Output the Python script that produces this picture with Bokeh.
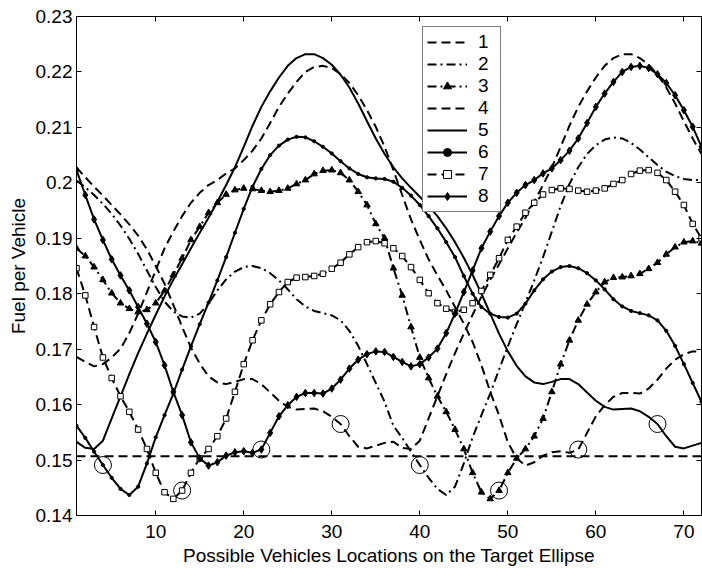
from bokeh.plotting import figure
from bokeh.models import Range1d, FixedTicker, LinearAxis, Legend, LegendItem, Span
from bokeh.embed import file_html
from bokeh.resources import INLINE

# ---------------- data ----------------
locations = list(range(1, 73))

fuel_1 = [0.2028, 0.2010, 0.1993, 0.1977, 0.1960, 0.1943, 0.1925, 0.1905, 0.1880, 0.1850,
          0.1818, 0.1780, 0.1740, 0.1703, 0.1674, 0.1651, 0.1640, 0.1637, 0.1641, 0.1646,
          0.1646, 0.1637, 0.1622, 0.1607, 0.1596, 0.1591, 0.1592, 0.1593, 0.1588, 0.1578,
          0.1565, 0.1543, 0.1524, 0.1521, 0.1526, 0.1531,
          0.1533, 0.1522, 0.1520, 0.1535, 0.1575, 0.1615, 0.1655, 0.1693, 0.1728, 0.1762,
          0.1795, 0.1825, 0.1853, 0.1882, 0.1910, 0.1937, 0.1966, 0.1996, 0.2028, 0.2065,
          0.2103, 0.2137, 0.2165, 0.2190, 0.2211, 0.2225, 0.2232, 0.2232, 0.2225, 0.2213,
          0.2195, 0.2172, 0.2143, 0.2111, 0.2080, 0.2052]

fuel_2 = [0.2004, 0.1992, 0.1978, 0.1962, 0.1944, 0.1923, 0.1899, 0.1872, 0.1842, 0.1812,
          0.1786, 0.1768, 0.1759, 0.1757, 0.1764, 0.1782, 0.1806, 0.1826, 0.1840, 0.1848,
          0.1850, 0.1846, 0.1837, 0.1824, 0.1808, 0.1790, 0.1777, 0.1769, 0.1765, 0.1761,
          0.1752, 0.1733, 0.1706, 0.1673, 0.1639, 0.1605,
          0.1562, 0.1540, 0.1515, 0.1491, 0.1468, 0.1448, 0.1437, 0.1452, 0.1494, 0.1541,
          0.1581, 0.1620, 0.1663, 0.1705, 0.1745, 0.1784, 0.1824, 0.1866, 0.1912, 0.1958,
          0.1998, 0.2028, 0.2052, 0.2068, 0.2078, 0.2082, 0.2080, 0.2072, 0.2060, 0.2046,
          0.2032, 0.2020, 0.2012, 0.2007, 0.2005, 0.2005]

fuel_3 = [0.1882, 0.1868, 0.1848, 0.1825, 0.1801, 0.1783, 0.1773, 0.1767, 0.1771, 0.1783,
          0.1805, 0.1834, 0.1864, 0.1897, 0.1921, 0.1946, 0.1964, 0.1979, 0.1987, 0.1990,
          0.1989, 0.1986, 0.1984, 0.1986, 0.1990, 0.1998, 0.2005, 0.2016, 0.2022, 0.2023,
          0.2018, 0.2005, 0.1984, 0.1960, 0.1926, 0.1900,
          0.1846, 0.1797, 0.1740, 0.1685, 0.1648, 0.1615, 0.1587, 0.1555, 0.1520, 0.1477,
          0.1442, 0.1430, 0.1445, 0.1477, 0.1503, 0.1520, 0.1543, 0.1575, 0.1623, 0.1673,
          0.1716, 0.1752, 0.1781, 0.1803, 0.1821, 0.1829, 0.1830, 0.1832, 0.1836, 0.1845,
          0.1856, 0.1871, 0.1884, 0.1893, 0.1895, 0.1891]

fuel_4 = [0.1686, 0.1677, 0.1669, 0.1673, 0.1685, 0.1701, 0.1729, 0.1764, 0.1803, 0.1842,
          0.1882, 0.1912, 0.1940, 0.1964, 0.1982, 0.1996, 0.2005, 0.2017, 0.2026, 0.2041,
          0.2058, 0.2080, 0.2108, 0.2137, 0.2161, 0.2182, 0.2200, 0.2209, 0.2211, 0.2207,
          0.2196, 0.2180, 0.2158, 0.2131, 0.2101, 0.2065,
          0.2023, 0.1978, 0.1934, 0.1897, 0.1862, 0.1833, 0.1806, 0.1776, 0.1746, 0.1713,
          0.1671, 0.1623, 0.1581, 0.1532, 0.1503, 0.1490, 0.1496, 0.1508, 0.1514, 0.1516,
          0.1513, 0.1519, 0.1549, 0.1579, 0.1599, 0.1614, 0.1621, 0.1621, 0.1620, 0.1629,
          0.1645, 0.1665, 0.1681, 0.1691, 0.1696, 0.1695]

fuel_5 = [0.1533, 0.1522, 0.1520, 0.1535, 0.1575, 0.1615, 0.1655, 0.1693, 0.1728, 0.1762,
          0.1795, 0.1825, 0.1853, 0.1882, 0.1910, 0.1937, 0.1966, 0.1996, 0.2028, 0.2065,
          0.2103, 0.2137, 0.2165, 0.2190, 0.2211, 0.2225, 0.2232, 0.2232, 0.2225, 0.2213,
          0.2195, 0.2172, 0.2143, 0.2111, 0.2080, 0.2052, 0.2028, 0.2008, 0.1991, 0.1975,
          0.1958, 0.1940, 0.1918, 0.1893, 0.1865, 0.1834, 0.1800, 0.1764, 0.1728, 0.1696,
          0.1670, 0.1651, 0.1640, 0.1637, 0.1641, 0.1646, 0.1646, 0.1637, 0.1622, 0.1607,
          0.1596, 0.1591, 0.1592, 0.1593, 0.1588, 0.1578, 0.1565, 0.1543, 0.1524, 0.1521,
          0.1526, 0.1531]

fuel_6 = [0.1562, 0.1540, 0.1515, 0.1491, 0.1468, 0.1448, 0.1437, 0.1452, 0.1494, 0.1541,
          0.1581, 0.1620, 0.1663, 0.1705, 0.1745, 0.1784, 0.1824, 0.1866, 0.1910, 0.1953,
          0.1993, 0.2025, 0.2050, 0.2067, 0.2078, 0.2083, 0.2082, 0.2075, 0.2065, 0.2053,
          0.2039, 0.2026, 0.2016, 0.2010, 0.2008, 0.2007, 0.2002, 0.1991, 0.1977, 0.1960,
          0.1940, 0.1918, 0.1893, 0.1866, 0.1832, 0.1800, 0.1776, 0.1764, 0.1758, 0.1757,
          0.1764, 0.1782, 0.1806, 0.1826, 0.1840, 0.1848, 0.1850, 0.1846, 0.1837, 0.1824,
          0.1808, 0.1790, 0.1777, 0.1769, 0.1765, 0.1761, 0.1752, 0.1733, 0.1706, 0.1673,
          0.1639, 0.1605]

fuel_7 = [0.1846, 0.1797, 0.1740, 0.1685, 0.1648, 0.1615, 0.1587, 0.1555, 0.1520, 0.1477,
          0.1442, 0.1430, 0.1445, 0.1477, 0.1503, 0.1520, 0.1543, 0.1575, 0.1623, 0.1673,
          0.1716, 0.1752, 0.1781, 0.1803, 0.1821, 0.1829, 0.1830, 0.1832, 0.1836, 0.1845,
          0.1856, 0.1871, 0.1884, 0.1893, 0.1895, 0.1891, 0.1882, 0.1868, 0.1848, 0.1825,
          0.1801, 0.1783, 0.1773, 0.1767, 0.1771, 0.1783, 0.1805, 0.1834, 0.1864, 0.1897,
          0.1921, 0.1946, 0.1964, 0.1979, 0.1987, 0.1990, 0.1989, 0.1986, 0.1984, 0.1986,
          0.1990, 0.1998, 0.2005, 0.2016, 0.2022, 0.2023, 0.2018, 0.2005, 0.1984, 0.1960,
          0.1926, 0.1900]

fuel_8 = [0.2023, 0.1978, 0.1934, 0.1897, 0.1862, 0.1833, 0.1806, 0.1776, 0.1746, 0.1713,
          0.1671, 0.1623, 0.1581, 0.1532, 0.1503, 0.1490, 0.1496, 0.1508, 0.1514, 0.1516,
          0.1513, 0.1519, 0.1549, 0.1579, 0.1599, 0.1614, 0.1621, 0.1621, 0.1620, 0.1629,
          0.1645, 0.1665, 0.1681, 0.1691, 0.1696, 0.1695, 0.1686, 0.1677, 0.1669, 0.1673,
          0.1685, 0.1701, 0.1729, 0.1764, 0.1803, 0.1842, 0.1882, 0.1912, 0.1940, 0.1964,
          0.1982, 0.1996, 0.2005, 0.2017, 0.2026, 0.2041, 0.2058, 0.2080, 0.2108, 0.2137,
          0.2161, 0.2182, 0.2200, 0.2209, 0.2211, 0.2207, 0.2196, 0.2180, 0.2158, 0.2131,
          0.2101, 0.2065]

series_names = ["1", "2", "3", "4", "5", "6", "7", "8"]
series_values = [fuel_1, fuel_2, fuel_3, fuel_4, fuel_5, fuel_6, fuel_7, fuel_8]

# the horizontal dashed reference level
reference_level = 0.1507

# location chosen for each vehicle (circled points)
chosen_location = [31, 40, 49, 58, 67, 4, 13, 22]

x_ticks = [10, 20, 30, 40, 50, 60, 70]
y_ticks = [0.14, 0.15, 0.16, 0.17, 0.18, 0.19, 0.2, 0.21, 0.22, 0.23]
y_tick_labels = ["0.14", "0.15", "0.16", "0.17", "0.18", "0.19", "0.2", "0.21", "0.22", "0.23"]

# ---------------- styling ----------------
FONT = "Liberation Sans"
FSIZE = "19px"
DASH = "9 5"
DASHDOT = "9 4 2 4"
LW = 2.0

styles = [
    dict(dash=DASH, marker=None),
    dict(dash=DASHDOT, marker=None),
    dict(dash=DASHDOT, marker="triangle", size=6.5, fill="black"),
    dict(dash=DASH, marker=None),
    dict(dash="solid", marker=None),
    dict(dash="solid", marker="circle", size=3.2, fill="black"),
    dict(dash=DASH, marker="square", size=5.5, fill="white"),
    dict(dash="solid", marker="diamond", size=7.5, fill="black"),
]

p = figure(width=702, height=571, output_backend="svg", toolbar_location=None,
           x_range=Range1d(1, 72), y_range=Range1d(0.14, 0.23),
           min_border_left=76, min_border_right=1, min_border_top=16, min_border_bottom=56)
p.background_fill_color = "white"
p.border_fill_color = "white"
p.outline_line_color = "black"
p.outline_line_width = 1
p.xgrid.grid_line_color = None
p.ygrid.grid_line_color = None

for ax in (p.xaxis[0], p.yaxis[0]):
    ax.major_tick_in = 5
    ax.major_tick_out = 0
    ax.minor_tick_line_color = None
    ax.axis_line_color = "black"
    ax.major_tick_line_color = "black"
    ax.major_label_text_font = FONT
    ax.major_label_text_font_size = FSIZE
    ax.major_label_text_color = "black"
    ax.axis_label_text_font = FONT
    ax.axis_label_text_font_size = FSIZE
    ax.axis_label_text_font_style = "normal"
    ax.axis_label_text_color = "black"

p.xaxis[0].ticker = FixedTicker(ticks=x_ticks)
p.yaxis[0].ticker = FixedTicker(ticks=y_ticks)
p.yaxis[0].major_label_overrides = dict(zip(y_ticks, y_tick_labels))
p.xaxis[0].axis_label = "Possible Vehicles Locations on the Target Ellipse"
p.yaxis[0].axis_label = "Fuel per Vehicle"
p.xaxis[0].major_label_standoff = 9
p.xaxis[0].axis_label_standoff = 4
p.yaxis[0].major_label_standoff = 4
p.yaxis[0].axis_label_standoff = 4

# tick marks on the top and right sides of the box (no labels there)
for place, ticks in (("above", x_ticks), ("right", y_ticks)):
    extra = LinearAxis(ticker=FixedTicker(ticks=ticks), major_label_text_font_size="0px",
                       major_label_text_color=None,
                       major_label_standoff=0, major_tick_in=5, major_tick_out=0,
                       minor_tick_line_color=None, axis_line_color="black",
                       major_tick_line_color="black")
    p.add_layout(extra, place)

# reference level
p.add_layout(Span(location=reference_level, dimension="width", line_color="black",
                  line_width=LW, line_dash=DASH))

items = []
for name, vals, st in zip(series_names, series_values, styles):
    rs = []
    r = p.line(locations, vals, line_color="black", line_width=LW, line_dash=st["dash"],
               line_join="round")
    rs.append(r)
    if st["marker"]:
        m = p.scatter(locations, vals, marker=st["marker"], size=st["size"],
                      fill_color=st["fill"], line_color="black", line_width=1)
        rs.append(m)
    items.append(LegendItem(label=name, renderers=rs))

# circled chosen points
cx = []
cy = []
for vals, loc in zip(series_values, chosen_location):
    cx.append(loc)
    cy.append(vals[locations.index(loc)])
p.scatter(cx, cy, marker="circle", size=17, fill_color=None, line_color="black", line_width=1)

legend = Legend(items=items, location=(346, 303), orientation="vertical",
                border_line_color="black", border_line_width=1,
                background_fill_color="white", background_fill_alpha=1.0,
                padding=4, spacing=0, margin=0,
                glyph_width=40, glyph_height=20, label_standoff=11,
                label_width=18, label_height=20,
                label_text_font=FONT, label_text_font_size=FSIZE, label_text_color="black")
p.add_layout(legend)

open("out.html", "w").write(file_html(p, INLINE))
